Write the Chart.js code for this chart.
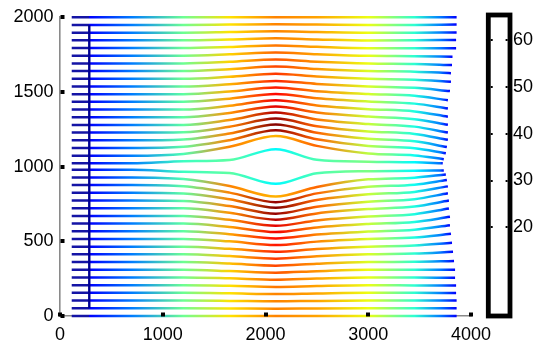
<!DOCTYPE html>
<html>
<head>
<meta charset="utf-8">
<script src="https://cdn.jsdelivr.net/npm/chart.js@4.4.0/dist/chart.umd.min.js"></script>
<style>
  html, body { margin: 0; padding: 0; background: #fff; }
  #wrap { position: relative; width: 535px; height: 343px; }
  #main { position: absolute; left: 0; top: 0; }
  #bar { position: absolute; left: 470px; top: 0; }
</style>
</head>
<body>
<div id="wrap">
  <canvas id="main" width="535" height="343"></canvas>
  <canvas id="bar" width="65" height="343"></canvas>
</div>
<script>
// axes
const xTicks = [0, 1000, 2000, 3000, 4000];
const yTicks = [0, 500, 1000, 1500, 2000];
const cbTicks = [20, 30, 40, 50, 60];
const cbMin = 1.1, cbMax = 65.3;

// streamlines: 40 lines, bottom (y=0) to top (y=2000)
const startX = 114;
const seedX = 285;
const seedY = [52, 1949];

// y of each line at x = 114, 285, 700
const yLeft = [0, 52, 103, 155, 206, 258, 309, 361, 413, 464, 516, 567, 619, 670, 722, 773, 825, 877, 928, 980,
  1022, 1073, 1125, 1176, 1228, 1279, 1331, 1382, 1434, 1485, 1537, 1588, 1640, 1691, 1743, 1794, 1846, 1897, 1949, 2000];
const y1200 = [0, 52, 103, 155, 206, 258, 309, 361, 413, 464, 516, 567, 619, 670, 722, 770, 820, 869, 917, 966,
  1036, 1085, 1133, 1182, 1230, 1279, 1331, 1382, 1434, 1485, 1537, 1588, 1640, 1691, 1743, 1794, 1846, 1897, 1949, 2000];
const y1650 = [0, 51, 101, 152, 202, 252, 301, 351, 401, 450, 500, 548, 596, 644, 691, 736, 782, 826, 870, 958,
  1044, 1133, 1177, 1222, 1267, 1312, 1360, 1407, 1455, 1503, 1552, 1602, 1652, 1702, 1752, 1801, 1851, 1901, 1951, 2000];
const y2100 = [0, 49, 98, 147, 195, 243, 290, 337, 384, 430, 475, 519, 562, 604, 645, 685, 724, 762, 800, 885,
  1117, 1205, 1243, 1282, 1322, 1362, 1403, 1445, 1487, 1530, 1574, 1622, 1670, 1718, 1765, 1812, 1859, 1906, 1953, 2000];
const y2500 = [0, 51, 101, 151, 201, 251, 300, 350, 400, 449, 498, 545, 593, 640, 687, 732, 777, 821, 864, 956,
  1046, 1139, 1183, 1227, 1271, 1316, 1363, 1410, 1458, 1505, 1554, 1603, 1654, 1703, 1753, 1802, 1852, 1901, 1951, 2000];
const y3000 = [0, 52, 103, 155, 206, 258, 309, 361, 413, 464, 515, 565, 616, 666, 716, 765, 815, 865, 915, 970,
  1033, 1088, 1138, 1187, 1236, 1285, 1335, 1385, 1436, 1486, 1537, 1588, 1640, 1691, 1742, 1793, 1845, 1896, 1948, 2000];
const y3450 = [0, 52, 103, 155, 205, 257, 309, 363, 418, 472, 525, 578, 630, 682, 733, 782, 831, 879, 926, 972,
  1029, 1075, 1123, 1170, 1219, 1268, 1318, 1370, 1422, 1474, 1528, 1582, 1636, 1688, 1740, 1793, 1846, 1897, 1949, 2000];
const yEnd = [0, 52, 103, 154, 204, 256, 310, 369, 430, 490, 550, 608, 664, 720, 773, 822, 868, 910, 948, 975,
  1022, 1050, 1090, 1132, 1180, 1228, 1280, 1334, 1390, 1445, 1506, 1568, 1626, 1680, 1736, 1793, 1848, 1899, 1951, 2000];
const xEnd = [3860, 3860, 3860, 3855, 3855, 3845, 3845, 3835, 3825, 3815, 3805, 3795, 3795, 3785, 3785, 3775, 3775, 3765, 3755, 3735,
  3725, 3735, 3755, 3765, 3775, 3775, 3775, 3775, 3775, 3775, 3795, 3805, 3805, 3815, 3820, 3855, 3855, 3860, 3860, 3860];

// speed (colour bar units) along each line at x = 285, 700, 1200, 1650, 2100, 2500, 3000, 3450, 3700, end
const sp285 = [9, 9, 9, 9, 9, 9, 9, 9, 9, 9, 9, 9, 9, 9, 9, 9, 9, 9, 9, 9,
  9, 9, 9, 9, 9, 9, 9, 9, 9, 9, 9, 9, 9, 9, 9, 9, 9, 9, 9, 9];
const sp700 = [17, 17, 17, 17, 17, 17, 17, 17, 17, 17, 17, 17, 17, 17, 17, 17, 17, 17, 17, 17,
  17, 17, 17, 17, 17, 17, 17, 17, 17, 17, 17, 17, 17, 17, 17, 17, 17, 17, 17, 17];
const sp1200 = [32, 32, 32, 32, 32, 32, 32, 32, 32, 32, 31, 31, 31, 31, 31, 31, 31, 31, 30, 29,
  29, 30, 31, 31, 31, 31, 31, 31, 31, 31, 32, 32, 32, 32, 32, 32, 32, 32, 32, 32];
const sp1650 = [43, 43, 43, 43, 43, 44, 44, 45, 45, 46, 46, 47, 47, 48, 48, 49, 49, 49, 49, 31,
  31, 49, 49, 49, 49, 48, 48, 47, 47, 46, 46, 45, 45, 44, 44, 43, 43, 43, 43, 43];
const sp2100 = [49, 49, 49, 49, 50, 51, 52, 53, 54, 55, 56, 57, 58, 59, 62, 64, 65, 64, 46, 25,
  25, 46, 64, 65, 64, 62, 59, 58, 57, 56, 55, 54, 53, 52, 51, 50, 49, 49, 49, 49];
const sp2500 = [47, 47, 47, 47, 47, 47, 48, 48, 48, 49, 49, 49, 49, 50, 50, 51, 51, 51, 51, 30,
  30, 51, 51, 51, 51, 50, 50, 49, 49, 49, 49, 48, 48, 48, 47, 47, 47, 47, 47, 47];
const sp3000 = [40, 40, 40, 40, 40, 40, 40, 39, 39, 39, 39, 38, 38, 38, 38, 38, 38, 37, 37, 33,
  33, 37, 37, 38, 38, 38, 38, 38, 38, 39, 39, 39, 39, 40, 40, 40, 40, 40, 40, 40];
const sp3450 = [28, 28, 28, 28, 28, 28, 28, 28, 28, 28, 27, 27, 27, 27, 27, 27, 27, 26, 26, 25,
  25, 26, 26, 27, 27, 27, 27, 27, 27, 27, 28, 28, 28, 28, 28, 28, 28, 28, 28, 28];
const sp3700 = [17, 17, 17, 17, 17, 17, 17, 17, 17, 17, 17, 17, 17, 17, 17, 17, 17, 17, 16, 16,
  16, 16, 17, 17, 17, 17, 17, 17, 17, 17, 17, 17, 17, 17, 17, 17, 17, 17, 17, 17];
const spEnd = [9, 9, 9, 9, 9, 9, 9, 9, 9, 9, 9, 9, 9, 9, 9, 9, 9, 9, 9, 9,
  9, 9, 9, 9, 9, 9, 9, 9, 9, 9, 9, 9, 9, 9, 9, 9, 9, 9, 9, 9];

const FONT = '"Liberation Sans", Arial, Helvetica, sans-serif';
const NAVY = 'rgb(20,20,165)';

// jet colour map
function jet(v) {
  const t = Math.min(1, Math.max(0, (v - cbMin) / (cbMax - cbMin)));
  const c = u => Math.round(255 * Math.min(1, Math.max(0, u)));
  return 'rgb(' + c(1.5 - Math.abs(4 * t - 3)) + ',' + c(1.5 - Math.abs(4 * t - 2)) + ',' + c(1.5 - Math.abs(4 * t - 1)) + ')';
}

function lineGradient(chart, i) {
  const xs = chart.scales.x;
  const x0 = xs.getPixelForValue(startX), x1 = xs.getPixelForValue(xEnd[i]);
  const g = chart.ctx.createLinearGradient(x0, 0, x1, 0);
  const pos = v => Math.min(1, Math.max(0, (xs.getPixelForValue(v) - x0) / (x1 - x0)));
  g.addColorStop(0, NAVY);
  g.addColorStop(pos(seedX - 2), NAVY);
  const sx = [seedX + 2, 700, 1200, 1650, 2100, 2500, 3000, 3450, 3700, xEnd[i]];
  const sp = [sp285[i], sp700[i], sp1200[i], sp1650[i], sp2100[i], sp2500[i], sp3000[i], sp3450[i], sp3700[i], spEnd[i]];
  sx.forEach((x, k) => g.addColorStop(pos(x), jet(sp[k])));
  return g;
}

const datasets = [{
  data: [{ x: seedX, y: seedY[0] }, { x: seedX, y: seedY[1] }],
  borderColor: 'rgb(0,0,145)',
  borderWidth: 2.4,
  tension: 0,
  cubicInterpolationMode: 'default'
}];

yLeft.forEach((y0, i) => {
  datasets.push({
    data: [
      { x: startX, y: y0 }, { x: seedX, y: y0 }, { x: 700, y: y0 },
      { x: 1200, y: y1200[i] }, { x: 1650, y: y1650[i] }, { x: 2100, y: y2100[i] },
      { x: 2500, y: y2500[i] }, { x: 3000, y: y3000[i] }, { x: 3450, y: y3450[i] },
      { x: xEnd[i], y: yEnd[i] }
    ],
    borderColor: ctx => ctx.chart.chartArea ? lineGradient(ctx.chart, i) : NAVY,
    borderWidth: 2.5,
    cubicInterpolationMode: 'monotone'
  });
});

// small black squares on the axes at each tick
const tickMarks = {
  id: 'tickMarks',
  afterDraw(chart) {
    const { ctx, chartArea: a, scales: { x, y } } = chart;
    ctx.save();
    ctx.fillStyle = '#000';
    xTicks.forEach(v => ctx.fillRect(Math.round(x.getPixelForValue(v)) - 2, a.bottom - 3.5, 4, 4));
    yTicks.forEach(v => ctx.fillRect(a.left + 0.5, Math.round(y.getPixelForValue(v)) - 2, 4, 4));
    ctx.restore();
  }
};

new Chart(document.getElementById('main'), {
  type: 'line',
  data: { datasets: datasets },
  options: {
    responsive: false,
    animation: false,
    events: [],
    layout: { padding: { top: 15, right: 64, left: 0, bottom: 0 } },
    elements: { point: { radius: 0 } },
    datasets: { line: { clip: false } },
    plugins: { legend: { display: false }, tooltip: { enabled: false } },
    scales: {
      x: {
        type: 'linear', min: 0, max: 4000, z: 1,
        afterBuildTicks: s => { s.ticks = xTicks.map(v => ({ value: v })); },
        afterFit: s => { s.height = 27; },
        grid: { display: false, drawTicks: false },
        border: { display: true, color: '#8a8a8a', width: 1.6 },
        ticks: { color: '#000', font: { family: FONT, size: 18 }, padding: 8, maxRotation: 0, autoSkip: false,
                 callback: v => String(v) }
      },
      y: {
        type: 'linear', min: 0, max: 2000,
        afterBuildTicks: s => { s.ticks = yTicks.map(v => ({ value: v })); },
        afterFit: s => { s.width = 60; },
        grid: { display: false, drawTicks: false },
        border: { display: true, color: '#8a8a8a', width: 1.6 },
        ticks: { color: '#000', font: { family: FONT, size: 18 }, padding: 6.5, autoSkip: false,
                 callback: v => String(v) }
      }
    }
  },
  plugins: [tickMarks]
});

// colour bar frame
const barFrame = {
  id: 'barFrame',
  afterDraw(chart) {
    const { ctx, chartArea: a, scales: { y } } = chart;
    ctx.save();
    ctx.strokeStyle = '#000';
    ctx.lineWidth = 4.8;
    ctx.strokeRect(a.left, a.top, a.right - a.left, a.bottom - a.top);
    ctx.fillStyle = '#000';
    cbTicks.forEach(v => {
      const p = Math.round(y.getPixelForValue(v));
      ctx.fillRect(a.right - 4.4, p - 1, 2, 2);
      ctx.fillRect(a.left + 2.4, p - 1, 2, 2);
    });
    ctx.restore();
  }
};

new Chart(document.getElementById('bar'), {
  type: 'line',
  data: { datasets: [] },
  options: {
    responsive: false,
    animation: false,
    events: [],
    layout: { padding: { left: 18.3, top: 15, bottom: 27, right: 0 } },
    plugins: { legend: { display: false }, tooltip: { enabled: false } },
    scales: {
      x: { type: 'linear', display: false, min: 0, max: 1 },
      y: {
        type: 'linear', position: 'right', min: cbMin, max: cbMax,
        afterBuildTicks: s => { s.ticks = cbTicks.map(v => ({ value: v })); },
        afterFit: s => { s.width = 25; },
        grid: { display: false, drawTicks: false },
        border: { display: false },
        ticks: { color: '#000', font: { family: FONT, size: 18 }, padding: 3, callback: v => String(v) }
      }
    }
  },
  plugins: [barFrame]
});
</script>
</body>
</html>
